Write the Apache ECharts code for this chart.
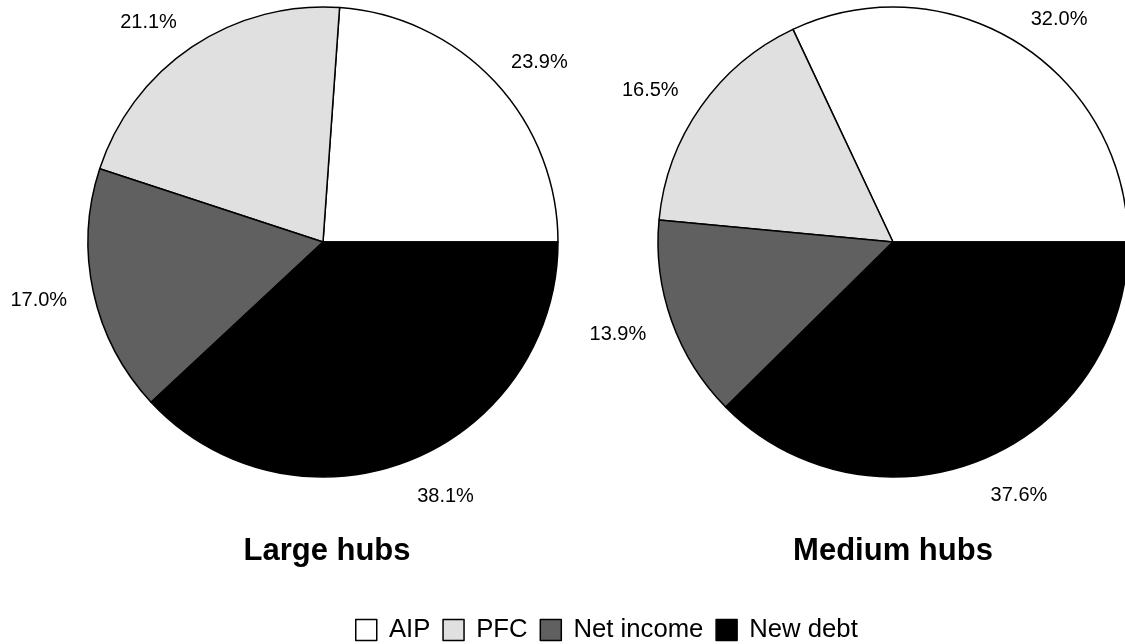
<!DOCTYPE html>
<html>
<head>
<meta charset="utf-8">
<script src="https://cdn.jsdelivr.net/npm/echarts@6/dist/echarts.min.js"></script>
<style>html,body{margin:0;padding:0;background:#fff}#c{width:1125px;height:644px}</style>
</head>
<body>
<div id="c"></div>
<script>
var categories = ['AIP', 'PFC', 'Net income', 'New debt'];
var largeHubs = [23.9, 21.1, 17.0, 38.1];
var mediumHubs = [32.0, 16.5, 13.9, 37.6];
var chartTitles = ['Large hubs', 'Medium hubs'];
var colors = ['#ffffff', '#e0e0e0', '#606060', '#000000'];

var PIE_CY = 242;
var PIE_CX = [323, 893];
function mk(vals) {
  return categories.map(function (c, i) { return { name: c, value: vals[i] }; });
}
var font = '"Liberation Sans", Arial, sans-serif';
function pie(vals, cx) {
  return {
    type: 'pie',
    center: [cx, PIE_CY],
    radius: [0, 235],
    startAngle: 0,
    clockwise: false,
    animation: false,
    avoidLabelOverlap: false,
    data: mk(vals),
    itemStyle: { borderColor: '#000', borderWidth: 1.5 },
    label: {
      show: true, position: 'outside', color: '#000', fontSize: 20, fontFamily: font,
      distanceToLabelLine: 0,
      formatter: function (p) { return p.value.toFixed(1) + '%'; }
    },
    labelLine: { show: false, length: 22, length2: 0 },
    labelLayout: function (p) {
      var r = p.labelRect;
      var c = PIE_CX[p.seriesIndex];
      var midX = r.x + r.width / 2;
      var right = midX > c;
      var ax = right ? r.x : r.x + r.width;
      var ay = r.y + r.height / 2;
      var d = Math.sqrt((ax - c) * (ax - c) + (ay - PIE_CY) * (ay - PIE_CY));
      var s = (ay - PIE_CY) / d; // positive when below centre
      var hc = Math.abs(ax - c) / d;
      return { dy: s < 0 ? s * 7 : s * 17, dx: right ? 0 : -5 * hc };
    },
    emphasis: { disabled: true }
  };
}
var chart = echarts.init(document.getElementById('c'));
chart.setOption({
  color: colors,
  animation: false,
  title: [
    { text: chartTitles[0], left: 322, top: 531, textAlign: 'center', textStyle: { fontSize: 31, fontWeight: 'bold', fontFamily: font, color: '#000' } },
    { text: chartTitles[1], left: 888, top: 531, textAlign: 'center', textStyle: { fontSize: 31, fontWeight: 'bold', fontFamily: font, color: '#000' } }
  ],
  legend: {
    data: categories, top: 612, left: 350, icon: 'rect', itemWidth: 21, itemHeight: 21, itemGap: 12,
    itemStyle: { borderColor: '#000', borderWidth: 1.5 },
    formatter: function (n) { return ' ' + n; },
    textStyle: { fontSize: 25.7, fontFamily: font, color: '#000' }
  },
  series: [pie(largeHubs, PIE_CX[0]), pie(mediumHubs, PIE_CX[1])]
});
</script>
</body>
</html>
